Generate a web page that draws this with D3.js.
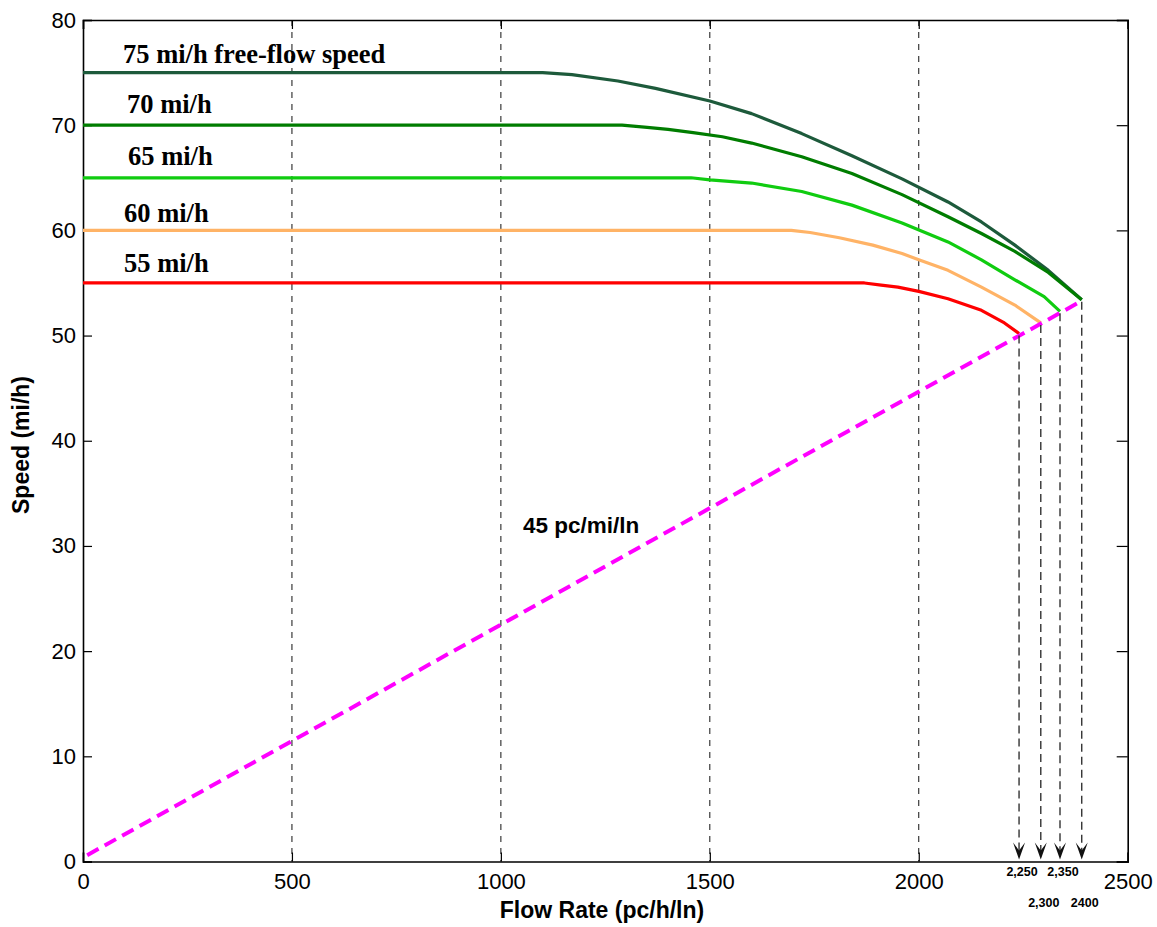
<!DOCTYPE html>
<html>
<head>
<meta charset="utf-8">
<script src="https://cdn.jsdelivr.net/npm/d3@7"></script>
<style>
  body { margin: 0; background: #fff; }
  svg { display: block; }
</style>
</head>
<body>
<script>
const width = 1157;
const height = 927;
const margin = { top: 20, right: 29.3, bottom: 65.5, left: 83 };

// speed-flow curves, [flow pc/h/ln, speed mi/h]
const ffs75 = [[0, 75], [1100, 75], [1170, 74.8], [1280, 74.2], [1370, 73.5], [1500, 72.3], [1600, 71.1], [1720, 69.2], [1840, 67.1], [1960, 64.9], [2070, 62.7], [2150, 60.8], [2230, 58.6], [2310, 56.2], [2390, 53.4]];
const ffs70 = [[0, 70], [1290, 70], [1350, 69.8], [1400, 69.6], [1460, 69.3], [1530, 68.9], [1600, 68.3], [1720, 67.0], [1840, 65.4], [1960, 63.4], [2070, 61.3], [2150, 59.7], [2230, 58.0], [2310, 56.0], [2390, 53.4]];
const ffs65 = [[0, 65], [1455, 65], [1500, 64.8], [1600, 64.5], [1720, 63.7], [1840, 62.4], [1960, 60.7], [2070, 58.9], [2150, 57.2], [2230, 55.3], [2300, 53.7], [2338, 52.3]];
const ffs60 = [[0, 60], [1695, 60], [1740, 59.8], [1810, 59.3], [1890, 58.6], [1960, 57.8], [2000, 57.2], [2070, 56.2], [2150, 54.6], [2230, 52.9], [2292, 51.2]];
const ffs55 = [[0, 55], [1870, 55], [1910, 54.8], [1950, 54.6], [2000, 54.2], [2070, 53.5], [2150, 52.4], [2205, 51.2], [2240, 50.2]];
// 45 pc/mi/ln density line
const density45 = [[10, 0.6], [2390, 53.3]];

const seriesNames = ['75 mi/h free-flow speed', '70 mi/h', '65 mi/h', '60 mi/h', '55 mi/h'];
const seriesColors = ['#1d5a3b', '#007d00', '#10cc10', '#ffb366', '#ff0000'];
const capacityLabels = ['2,250', '2,300', '2,350', '2400'];

const xTicks = [0, 500, 1000, 1500, 2000, 2500];
const yTicks = [0, 10, 20, 30, 40, 50, 60, 70, 80];
const gridX = [500, 1000, 1500, 2000];

const chartWidth = width - margin.left - margin.right;
const chartHeight = height - margin.top - margin.bottom;

const svg = d3.select('body').append('svg')
  .attr('width', width)
  .attr('height', height);

const x = d3.scaleLinear().domain([0, 2500]).range([margin.left, margin.left + chartWidth]);
const y = d3.scaleLinear().domain([0, 80]).range([margin.top + chartHeight, margin.top]);

// dashed grid
svg.append('g').selectAll('line').data(gridX).join('line')
  .attr('x1', d => x(d)).attr('x2', d => x(d))
  .attr('y1', y(80)).attr('y2', y(0))
  .attr('stroke', '#111').attr('stroke-width', 1)
  .attr('stroke-dasharray', '6,6');

// axes (ticks inward, matlab style)
const sans = 'Liberation Sans, Arial, sans-serif';
const axB = svg.append('g').attr('transform', `translate(0,${y(0)})`)
  .call(d3.axisBottom(x).tickValues(xTicks).tickSize(-9).tickPadding(14).tickFormat(d3.format('d')));
const axL = svg.append('g').attr('transform', `translate(${x(0)},0)`)
  .call(d3.axisLeft(y).tickValues(yTicks).tickSize(-9).tickPadding(7));
const axT = svg.append('g').attr('transform', `translate(0,${y(80)})`)
  .call(d3.axisTop(x).tickValues(xTicks).tickSize(-9).tickFormat(''));
const axR = svg.append('g').attr('transform', `translate(${x(2500)},0)`)
  .call(d3.axisRight(y).tickValues(yTicks).tickSize(-11).tickFormat(''));
[axB, axL, axT, axR].forEach(g => {
  g.select('.domain').attr('stroke', '#000').attr('stroke-width', 1.6);
  g.selectAll('.tick line').attr('stroke', '#000').attr('stroke-width', 1.2);
  g.selectAll('text').attr('font-family', sans).attr('font-size', 22).attr('fill', '#000');
});
axB.selectAll('.tick text').attr('dy', '0.6em');

// curves
const line = d3.line().x(d => x(d[0])).y(d => y(d[1]));
const allSeries = [ffs75, ffs70, ffs65, ffs60, ffs55];
svg.append('g').selectAll('path').data(allSeries).join('path')
  .attr('d', line)
  .attr('fill', 'none')
  .attr('stroke', (d, i) => seriesColors[i])
  .attr('stroke-width', 3.2)
  .attr('stroke-linejoin', 'round');

// density line
svg.append('path')
  .datum(density45)
  .attr('d', line)
  .attr('fill', 'none')
  .attr('stroke', '#ff00ff')
  .attr('stroke-width', 4)
  .attr('stroke-dasharray', '13,7');

// capacity drop lines with arrowheads
const caps = [ffs55, ffs60, ffs65, ffs75].map(s => s[s.length - 1]);
const capG = svg.append('g');
caps.forEach((p, i) => {
  const cx = x(p[0]);
  const yb = y(0);
  capG.append('line')
    .attr('x1', cx).attr('x2', cx)
    .attr('y1', y(p[1]) + 2).attr('y2', yb - 6)
    .attr('stroke', '#333').attr('stroke-width', 1.4)
    .attr('stroke-dasharray', '8,5');
  capG.append('path')
    .attr('d', `M${cx - 6},${yb - 19} L${cx},${yb - 2} L${cx + 6},${yb - 19} L${cx},${yb - 11} Z`)
    .attr('fill', '#111');
  capG.append('text')
    .attr('x', cx + 3)
    .attr('y', i % 2 === 0 ? 876 : 907)
    .attr('text-anchor', 'middle')
    .attr('font-family', sans).attr('font-weight', 'bold').attr('font-size', 12.5)
    .text(capacityLabels[i]);
});

// curve labels
const labelX = [123, 127, 128, 124, 124];
const labelBase = [63, 113, 165, 222, 272];
svg.append('g').selectAll('text').data(seriesNames).join('text')
  .attr('x', (d, i) => labelX[i])
  .attr('y', (d, i) => labelBase[i])
  .attr('font-family', 'Liberation Serif, Times New Roman, serif')
  .attr('font-weight', 'bold')
  .attr('font-size', 26.5)
  .text(d => d);

svg.append('text')
  .attr('x', 523).attr('y', 533)
  .attr('font-family', sans).attr('font-weight', 'bold').attr('font-size', 22.5)
  .text('45 pc/mi/ln');

// axis titles
svg.append('text')
  .attr('x', 602).attr('y', 918)
  .attr('text-anchor', 'middle')
  .attr('font-family', sans).attr('font-weight', 'bold').attr('font-size', 23)
  .text('Flow Rate (pc/h/ln)');
svg.append('text')
  .attr('transform', 'translate(29,445) rotate(-90)')
  .attr('text-anchor', 'middle')
  .attr('font-family', sans).attr('font-weight', 'bold').attr('font-size', 23)
  .text('Speed (mi/h)');
</script>
</body>
</html>
